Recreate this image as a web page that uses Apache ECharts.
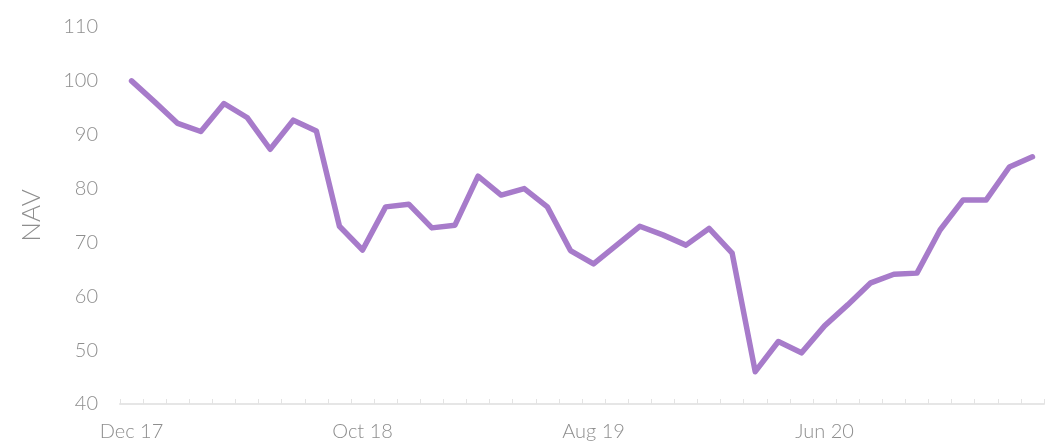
<!DOCTYPE html>
<html>
<head>
<meta charset="utf-8">
<script src="https://cdn.jsdelivr.net/npm/echarts@6/dist/echarts.min.js"></script>
<style>
html,body{margin:0;padding:0;background:#fff;}
#chart{width:1054px;height:446px;}
</style>
</head>
<body>
<div id="chart"></div>
<script>
const months = ['Jan','Feb','Mar','Apr','May','Jun','Jul','Aug','Sep','Oct','Nov','Dec'];
const categories = [];
(function(){
  let m = 11, y = 17;
  for (let i = 0; i < 40; i++) {
    categories.push(months[m] + ' ' + y);
    m++; if (m > 11) { m = 0; y++; }
  }
})();
const navValues = [
  100, 96.1, 92.1, 90.6, 95.8, 93.2, 87.3, 92.7, 90.7, 73.0,
  68.6, 76.6, 77.1, 72.7, 73.2, 82.3, 78.8, 80.0, 76.6, 68.5,
  66.0, 69.5, 73.0, 71.4, 69.5, 72.6, 68.0, 46.0, 51.6, 49.5,
  54.5, 58.4, 62.5, 64.1, 64.3, 72.3, 77.9, 77.9, 84.0, 85.9
];
const yMin = 40, yMax = 110, yInterval = 10;
const fontFam = 'Lato, "Open Sans", sans-serif';
const textColor = '#8e8e8e';

const chart = echarts.init(document.getElementById('chart'));
chart.setOption({
  animation: false,
  grid: { left: 120, right: 10, top: 27, bottom: 42, containLabel: false },
  xAxis: {
    type: 'category',
    data: categories,
    boundaryGap: true,
    axisLine: { lineStyle: { color: '#e6e6e6', width: 2 } },
    axisTick: { show: true, inside: true, length: 5, interval: 0, lineStyle: { color: '#e3e3e3', width: 1 } },
    axisLabel: { interval: 9, color: textColor, fontFamily: fontFam, fontWeight: 300, fontSize: 20, margin: 18 },
    splitLine: { show: false }
  },
  yAxis: {
    type: 'value',
    min: yMin, max: yMax, interval: yInterval,
    name: 'NAV',
    nameLocation: 'middle',
    nameGap: 75,
    nameRotate: 90,
    nameTextStyle: { color: textColor, fontFamily: fontFam, fontWeight: 300, fontSize: 26 },
    axisLine: { show: false },
    axisTick: { show: false },
    splitLine: { show: false },
    axisLabel: { color: textColor, fontFamily: fontFam, fontWeight: 300, fontSize: 20, margin: 22 }
  },
  series: [{
    type: 'line',
    data: navValues,
    showSymbol: false,
    symbol: 'none',
    lineStyle: { color: '#a77bca', width: 5.5, cap: 'round', join: 'round' },
    itemStyle: { color: '#a77bca' }
  }]
});
</script>
</body>
</html>
